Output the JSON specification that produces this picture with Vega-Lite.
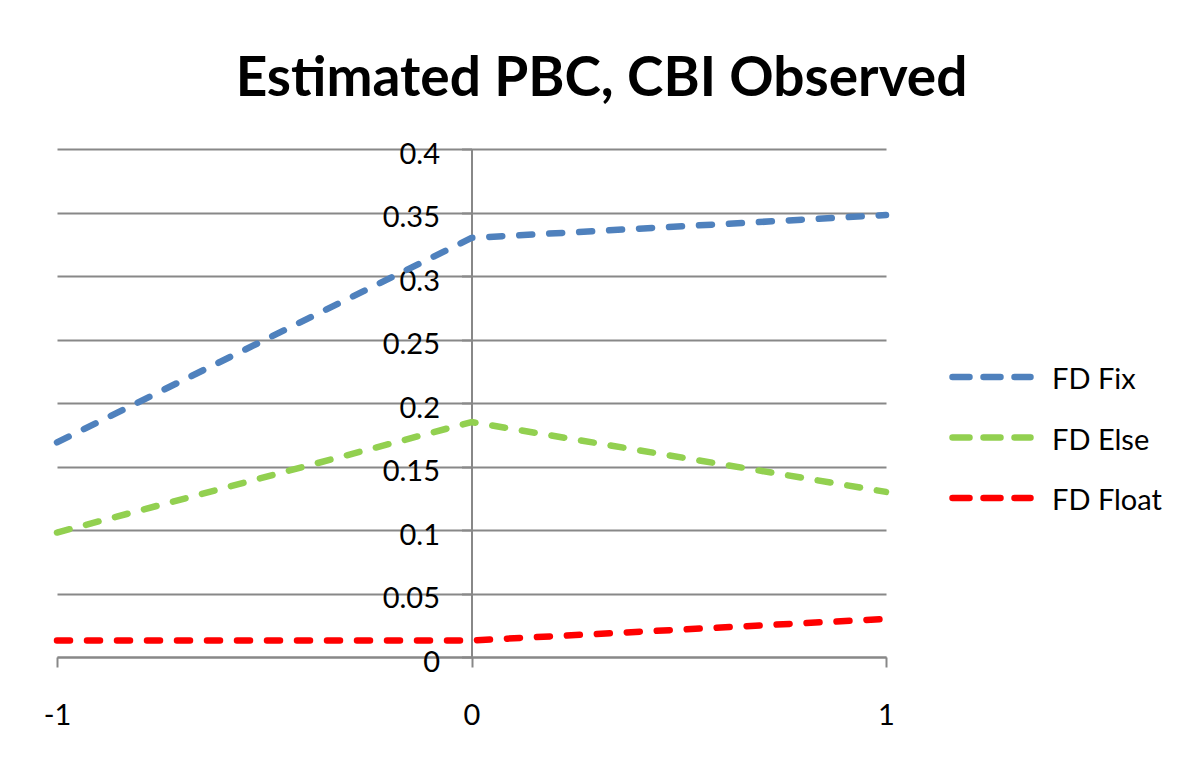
{
  "$schema": "https://vega.github.io/schema/vega-lite/v6.json",
  "width": 829,
  "height": 508,
  "autosize": {"type": "none"},
  "padding": {"left": 57, "top": 149, "right": 305, "bottom": 106},
  "background": "white",
  "title": {
    "text": "Estimated PBC, CBI Observed",
    "font": "Lato",
    "fontSize": 55,
    "fontWeight": "bold",
    "color": "black",
    "anchor": "middle",
    "frame": "group",
    "dx": 130,
    "baseline": "alphabetic",
    "offset": -11
  },
  "config": {"view": {"stroke": null}, "font": "Lato"},
  "data": {
    "values": [
      {"series": "FD Fix", "x": -1, "y": 0.169},
      {"series": "FD Fix", "x": 0, "y": 0.330},
      {"series": "FD Fix", "x": 1, "y": 0.348},
      {"series": "FD Else", "x": -1, "y": 0.098},
      {"series": "FD Else", "x": 0, "y": 0.185},
      {"series": "FD Else", "x": 1, "y": 0.130},
      {"series": "FD Float", "x": -1, "y": 0.013},
      {"series": "FD Float", "x": 0, "y": 0.013},
      {"series": "FD Float", "x": 1, "y": 0.030}
    ]
  },
  "mark": {"type": "line", "strokeWidth": 6.5, "strokeCap": "round", "strokeJoin": "round", "strokeDash": [13, 17]},
  "encoding": {
    "x": {
      "field": "x",
      "type": "quantitative",
      "scale": {"domain": [-1, 1], "nice": false, "zero": false},
      "axis": {
        "title": null,
        "values": [-1, 0, 1],
        "grid": false,
        "domainColor": "#888888",
        "domainWidth": 2,
        "tickColor": "#888888",
        "tickWidth": 2,
        "tickSize": 10,
        "labelFontSize": 29,
        "labelFont": "Lato",
        "labelColor": "black",
        "labelPadding": 34,
        "labelFlush": false,
        "labelOverlap": false,
        "labelExpr": "'' + datum.value"
      }
    },
    "y": {
      "field": "y",
      "type": "quantitative",
      "scale": {"domain": [0, 0.4], "nice": false},
      "axis": {
        "title": null,
        "values": [0, 0.05, 0.1, 0.15, 0.2, 0.25, 0.3, 0.35, 0.4],
        "offset": -414.5,
        "grid": true,
        "gridColor": "#888888",
        "gridWidth": 2,
        "domainColor": "#888888",
        "domainWidth": 2,
        "tickColor": "#888888",
        "tickWidth": 2,
        "tickSize": 10,
        "labelFontSize": 29,
        "labelFont": "Lato",
        "labelColor": "black",
        "labelPadding": 22,
        "labelFlush": false,
        "labelOverlap": false,
        "labelOffset": 5,
        "labelExpr": "'' + datum.value"
      }
    },
    "color": {
      "field": "series",
      "type": "nominal",
      "scale": {"domain": ["FD Fix", "FD Else", "FD Float"], "range": ["#4F81BD", "#92D050", "#FF0000"]},
      "legend": {
        "title": null,
        "orient": "none",
        "legendX": 892,
        "legendY": 213,
        "symbolType": "stroke",
        "symbolSize": 6084,
        "symbolStrokeWidth": 6.5,
        "symbolDash": [17, 14],
        "clipHeight": 30,
        "rowPadding": 27.5,
        "labelFontSize": 29,
        "labelFont": "Lato",
        "labelColor": "black",
        "labelOffset": 18,
        "encode": {
          "symbols": {"update": {"strokeCap": {"value": "round"}}},
          "labels": {"update": {"dy": {"value": 3}}}
        }
      }
    }
  }
}
